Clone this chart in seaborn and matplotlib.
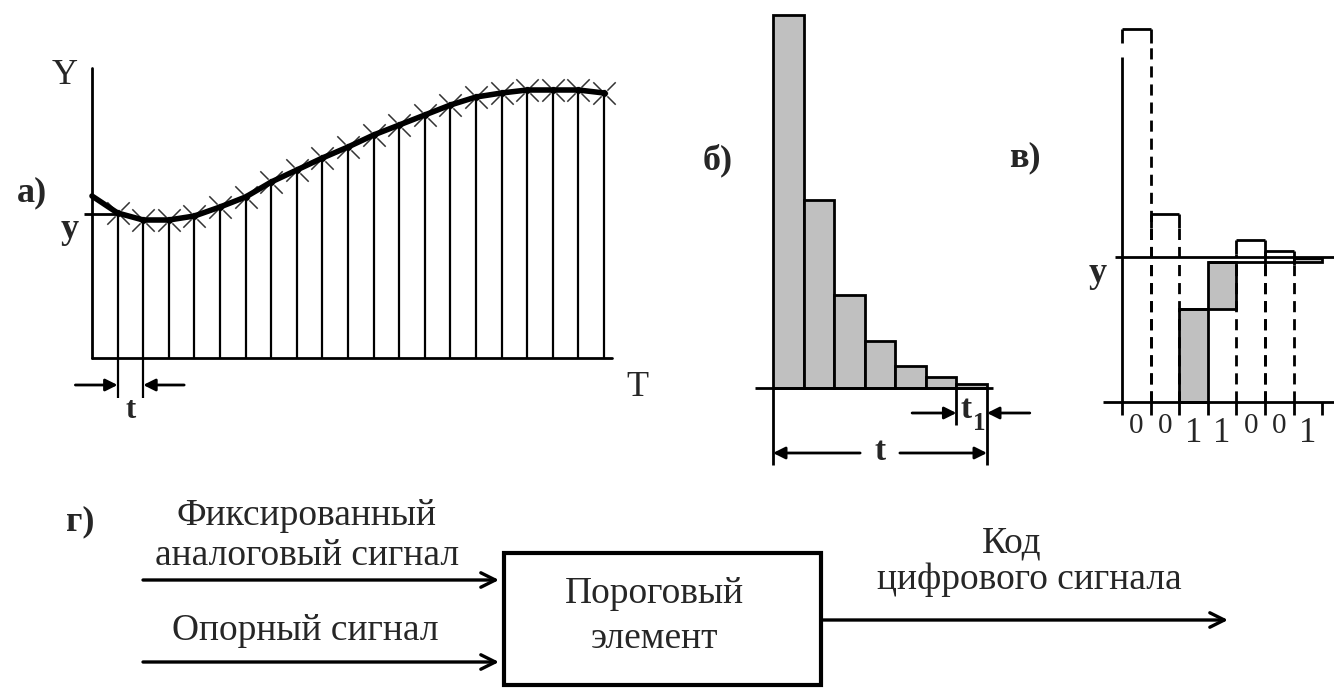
import matplotlib
matplotlib.use('Agg')
import matplotlib.pyplot as plt
from matplotlib.patches import Rectangle
import seaborn as sns

# a) analog signal, read at the sampling instants (0 = start of the curve)
sample_t = list(range(21))
signal_y = [162, 145, 138, 138, 142, 151, 161, 176, 188, 200, 211,
            223, 233, 243, 253, 261, 265, 268, 268, 268, 265]
y_level = 144

# b) reference steps
step_labels = ['1', '2', '3', '4', '5', '6', '7']
step_values = [373, 188, 93, 47, 22, 11, 4.5]

# c) comparison result
code_bits = [0, 0, 1, 1, 0, 0, 1]
ref_level = 145

# d) block diagram texts
in_text_1 = ['Фиксированный', 'аналоговый сигнал']
in_text_2 = ['Опорный сигнал']
block_text = ['Пороговый', 'элемент']
out_text = ['Код', 'цифрового сигнала']

sns.set_style('white')
plt.rcParams['font.family'] = ['Liberation Serif', 'DejaVu Serif']

W, H = 1334, 688
fig = plt.figure(figsize=(W / 100, H / 100), dpi=100)

# overlay in pixel units for labels and the block diagram
lay = fig.add_axes([0, 0, 1, 1])
lay.set_xlim(0, W)
lay.set_ylim(H, 0)
lay.axis('off')


def panel_axes(box, origin, xunit):
    x0, y0, x1, y1 = box
    ox, oy = origin
    ax = fig.add_axes([x0 / W, 1 - y1 / H, (x1 - x0) / W, (y1 - y0) / H])
    ax.axis('off')
    lims = ((x0 - ox) / xunit, (x1 - ox) / xunit), (oy - y1, oy - y0)
    return ax, lims


arrow = dict(arrowstyle='-|>', color='k', lw=2, mutation_scale=18, shrinkA=0, shrinkB=0)
gray = '#c0c0c0'
lw = 2

# ---------------- panel a ----------------
ax_a, lim_a = panel_axes((50, 40, 660, 430), (92, 358), 25.6)
ax_a.vlines(sample_t[1:], 0, signal_y[1:], color='k', lw=1.6)
sns.lineplot(x=sample_t, y=signal_y, ax=ax_a, color='k', lw=4, sort=False, estimator=None)
sns.scatterplot(x=sample_t[1:], y=signal_y[1:], ax=ax_a, marker='x', s=260, color='#333333', linewidth=1.1)
sns.scatterplot(x=sample_t[1:], y=signal_y[1:], ax=ax_a, marker='o', s=30, color='k')
ax_a.plot([0, 0], [0, 290], color='k', lw=lw)
ax_a.plot([0, 20.3], [0, 0], color='k', lw=lw)
ax_a.hlines(y_level, -0.3, 1.0, color='k', lw=lw)
ax_a.vlines([1, 2], -40, 0, color='k', lw=1.6)
ax_a.annotate('', xy=(1, -27), xytext=(-0.65, -27), arrowprops=arrow)
ax_a.annotate('', xy=(2, -27), xytext=(3.6, -27), arrowprops=arrow)
ax_a.text(1.5, -52, 't', fontsize=22, fontweight='bold', ha='center', va='center')
ax_a.text(21.3, -30, 'T', fontsize=26, ha='center', va='center')
ax_a.text(-1.05, 283, 'Y', fontsize=26, ha='center', va='center')
ax_a.set_xlim(lim_a[0])
ax_a.set_ylim(lim_a[1])
ax_a.axis('off')

# ---------------- panel b ----------------
ax_b, lim_b = panel_axes((740, 0, 1050, 480), (788.3, 388), 30.57)
sns.barplot(x=step_labels, y=step_values, ax=ax_b, color=gray, edgecolor='k',
            linewidth=lw, width=1, saturation=1, errorbar=None)
ax_b.hlines(0, -1.1, 6.7, color='k', lw=lw)
ax_b.vlines([-0.5, 6.5], -77, 0, color='k', lw=lw)
ax_b.vlines(5.5, -37, 0, color='k', lw=lw)
ax_b.annotate('', xy=(-0.5, -65), xytext=(2.35, -65), arrowprops=arrow)
ax_b.annotate('', xy=(6.5, -65), xytext=(3.65, -65), arrowprops=arrow)
ax_b.text(3.0, -63, 't', fontsize=24, fontweight='bold', ha='center', va='center')
ax_b.annotate('', xy=(5.5, -25), xytext=(4.05, -25), arrowprops=arrow)
ax_b.annotate('', xy=(6.5, -25), xytext=(7.9, -25), arrowprops=arrow)
ax_b.text(5.8, -22, 't', fontsize=24, fontweight='bold', ha='center', va='center')
ax_b.text(6.25, -36, '1', fontsize=18, fontweight='bold', ha='center', va='center')
ax_b.set_xlim(lim_b[0])
ax_b.set_ylim(lim_b[1])
ax_b.axis('off')

# ---------------- panel c ----------------
ax_c, lim_c = panel_axes((1085, 0, W, 480), (1136.3, 402), 28.6)
dash = (0, (4, 2.5))
level = 0
for i, (v, bit) in enumerate(zip(step_values, code_bits)):
    top = level + v
    if bit:
        ax_c.bar(i, v, bottom=level, width=1, color=gray, edgecolor='k', linewidth=lw)
        level = top
    else:
        edges = [i + 0.5] if i == 0 else [i - 0.5, i + 0.5]
        ax_c.vlines(edges, 0, top - 14, color='k', lw=lw, linestyles=dash)
        ax_c.vlines([i - 0.5, i + 0.5], top - 14, top, color='k', lw=lw)
        ax_c.hlines(top, i - 0.5, i + 0.5, color='k', lw=lw)
    if level > 0:
        ax_c.hlines(level, i - 0.5, i + 0.5, color='k', lw=lw)
ax_c.vlines(-0.5, -13, 345, color='k', lw=lw)
ax_c.hlines(0, -1.16, 7.2, color='k', lw=lw)
ax_c.hlines(ref_level, -0.74, 7.2, color='k', lw=lw)
ax_c.vlines([k + 0.5 for k in range(7)], -13, 0, color='k', lw=lw)
for i, bit in enumerate(code_bits):
    ax_c.text(i, -24 if bit == 0 else -31, str(bit), fontsize=21 if bit == 0 else 25,
              ha='center', va='center')
ax_c.set_xlim(lim_c[0])
ax_c.set_ylim(lim_c[1])
ax_c.axis('off')

# ---------------- labels ----------------
bold = dict(fontsize=26, fontweight='bold', ha='center', va='center')
lay.text(32, 193, 'а)', **bold)
lay.text(70, 230, 'y', **bold)
lay.text(718, 160, 'б)', **bold)
lay.text(1025, 158, 'в)', **bold)
lay.text(1098, 273, 'y', **bold)
lay.text(80, 522, 'г)', **bold)

# ---------------- panel d ----------------
open_arrow = dict(arrowstyle='->', color='k', lw=2.4, mutation_scale=26, shrinkA=0, shrinkB=0)
txt = dict(fontsize=27, ha='center', va='baseline')
lay.text(307, 525, in_text_1[0], **txt)
lay.text(307, 565, in_text_1[1], **txt)
lay.annotate('', xy=(499, 580), xytext=(143, 580), arrowprops=open_arrow)
lay.text(305, 640, in_text_2[0], **txt)
lay.annotate('', xy=(499, 662), xytext=(143, 662), arrowprops=open_arrow)
lay.add_patch(Rectangle((504, 553), 317, 132, fill=False, edgecolor='k', lw=3))
lay.text(654, 603, block_text[0], **txt)
lay.text(655, 648, block_text[1], **txt)
lay.annotate('', xy=(1228, 620), xytext=(821, 620), arrowprops=open_arrow)
lay.text(1012, 552, out_text[0], **txt)
lay.text(1029, 589, out_text[1], **txt)

fig.savefig('out.png', dpi=100)
